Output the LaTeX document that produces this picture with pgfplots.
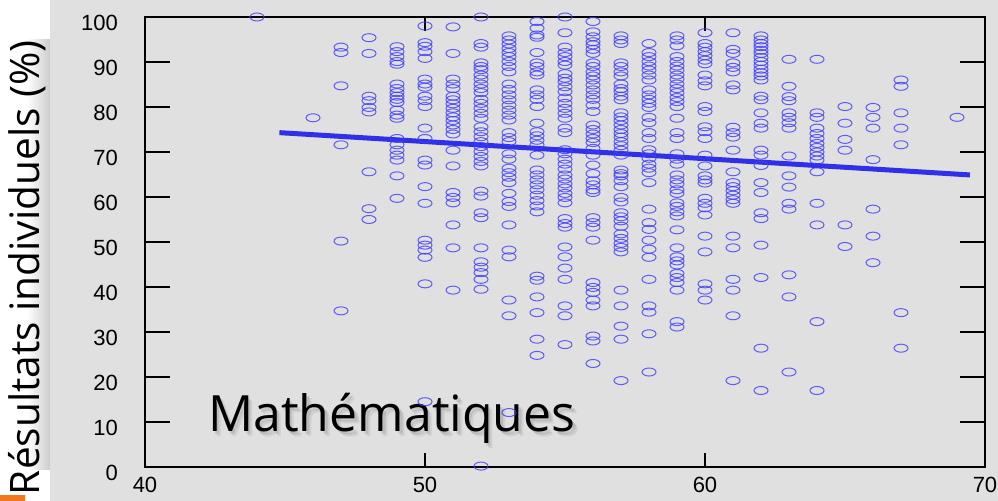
\documentclass[border=0pt]{standalone}
\usepackage{fontspec}
\setmainfont{Liberation Sans}
\newfontfamily\labelfont{Open Sans}
\usepackage{pgfplots}
\pgfplotsset{compat=1.18}
\definecolor{bg}{RGB}{224,224,224}
\definecolor{pts}{RGB}{60,60,255}
\definecolor{fit}{RGB}{48,48,232}
\definecolor{bar}{RGB}{240,120,30}

\begin{document}
\begin{tikzpicture}
% whole slide area, 1px = 0.5pt
\path[use as bounding box, fill=bg] (-72.5pt,-17pt) rectangle (426.5pt,233.5pt);
\fill[white] (-72.5pt,-17pt) rectangle (-47.5pt,233.5pt);
\shade[left color=white, right color=black!20] (-59pt,-1.5pt) rectangle (-47.5pt,213.5pt);
\fill[bar] (-72.5pt,-17pt) rectangle (-60pt,-14pt);
\begin{axis}[
  at={(0,0)}, anchor=south west,
  scale only axis, width=420pt, height=225pt,
  xmin=40, xmax=70, ymin=0, ymax=100,
  xtick={40,50,60,70}, ytick={0,10,...,100},
  tick align=inside,
  xtick style={/pgfplots/major tick length=7pt},
  ytick style={/pgfplots/major tick length=12.5pt},
  axis line style={line width=0.6pt},
  tick style={line width=0.6pt, black},
  tick label style={font=\fontsize{11}{13}\selectfont},
  /pgf/number format/assume math mode=true,
  yticklabel style={xshift=-10pt, yshift=-3pt},
  xticklabel style={yshift=-4pt, inner sep=1pt},
  clip=false,
]
% soft drop shadow, then the text
\node[anchor=base west, inner sep=0, text=black, opacity=0.10,
  font=\labelfont\fontsize{25}{30}\selectfont]
  at ([xshift=1.2pt,yshift=-1.2pt]axis cs:42.25,7.8) {Mathématiques};
\node[anchor=base west, inner sep=0, text=black, opacity=0.07,
  font=\labelfont\fontsize{25}{30}\selectfont]
  at ([xshift=2.2pt,yshift=-2.2pt]axis cs:42.25,7.8) {Mathématiques};
\node[anchor=base west, inner sep=0,
  font=\labelfont\fontsize{25}{30}\selectfont] at (axis cs:42.25,7.8) {Mathématiques};
\node[rotate=90, inner sep=0, font=\labelfont\fontsize{20.3}{24}\selectfont]
  at ([xshift=-59pt]rel axis cs:0,0.443) {Résultats individuels (\%)};

\addplot[only marks, mark=o, mark size=2pt,
  mark options={xscale=1.75, draw=pts, line width=0.5pt, draw opacity=0.8}]
coordinates {
(44,100) (46,77.6)
(47,93.3) (47,92.1) (47,84.7) (47,71.6) (47,50.2) (47,34.7)
(48,95.4) (48,91.9) (48,82.4) (48,81.4) (48,79.9) (48,78.9) (48,65.6) (48,57.4) (48,55.0)
(49,93.4) (49,92.3) (49,91.2) (49,90.1) (49,89.5) (49,85.1) (49,84.1) (49,83.2) (49,82.4) (49,81.7) (49,81.0) (49,79.3) (49,78.2) (49,77.5) (49,73.0) (49,71.6) (49,70.4) (49,69.3) (49,68.2) (49,64.7) (49,59.7)
(50,98.0) (50,94.3) (50,93.5) (50,92.3) (50,90.8) (50,86.2) (50,85.1) (50,84.4) (50,82.4) (50,81.4) (50,80.1) (50,75.3) (50,73.0) (50,68.2) (50,67.1) (50,62.3) (50,58.6) (50,50.4) (50,49.3) (50,48.2) (50,46.6) (50,40.7) (50,14.5)
(51,97.8) (51,91.9) (51,86.2) (51,85.1) (51,84.1) (51,82.4) (51,81.6) (51,80.7) (51,79.7) (51,78.7) (51,77.8) (51,77.0) (51,76.0) (51,75.0) (51,74.0) (51,70.4) (51,66.9) (51,61.0) (51,59.9) (51,58.7) (51,53.8) (51,48.7) (51,39.3)
(52,100) (52,94.1) (52,93.3) (52,89.8) (52,89.0) (52,88.3) (52,87.1) (52,86.2) (52,85.1) (52,84.1) (52,83.2) (52,81.7) (52,80.8) (52,79.7) (52,78.6) (52,77.5) (52,75.6) (52,74.5) (52,73.4) (52,72.3) (52,71.2) (52,70.1) (52,69.0) (52,67.9) (52,66.9) (52,61.3) (52,60.2) (52,56.5) (52,55.4) (52,48.7) (52,45.6) (52,44.4) (52,43.2) (52,41.7) (52,39.5) (52,0.2)
(53,95.8) (53,94.9) (53,94.0) (53,93.0) (53,92.1) (53,91.2) (53,90.1) (53,89.0) (53,87.8) (53,85.1) (53,83.9) (53,82.7) (53,81.6) (53,80.4) (53,79.3) (53,78.2) (53,77.1) (53,74.3) (53,73.2) (53,72.3) (53,69.6) (53,68.4) (53,66.4) (53,65.4) (53,64.4) (53,63.2) (53,60.8) (53,59.0) (53,57.9) (53,53.8) (53,48.2) (53,46.7) (53,37.1) (53,33.6) (53,12.1)
(54,99.0) (54,97.5) (54,96.0) (54,95.5) (54,92.1) (54,89.8) (54,89.0) (54,87.8) (54,87.1) (54,83.8) (54,82.7) (54,81.7) (54,80.1) (54,76.4) (54,74.5) (54,73.6) (54,72.6) (54,71.6) (54,69.3) (54,66.0) (54,64.9) (54,63.8) (54,62.7) (54,61.6) (54,60.4) (54,59.2) (54,58.0) (54,56.7) (54,42.4) (54,41.5) (54,37.8) (54,34.3) (54,28.4) (54,24.8)
(55,100) (55,96.5) (55,93.3) (55,92.1) (55,91.2) (55,90.1) (55,89.3) (55,87.4) (55,86.4) (55,85.6) (55,84.5) (55,83.4) (55,82.0) (55,80.8) (55,79.7) (55,78.6) (55,77.5) (55,75.3) (55,74.3) (55,70.5) (55,69.6) (55,68.4) (55,67.3) (55,66.2) (55,64.9) (55,64.0) (55,62.9) (55,62.0) (55,60.8) (55,59.9) (55,58.7) (55,55.2) (55,54.1) (55,53.3) (55,48.9) (55,46.7) (55,44.2) (55,41.7) (55,35.8) (55,33.6) (55,27.2)
(56,99.0) (56,96.7) (56,95.6) (56,94.5) (56,93.8) (56,92.8) (56,91.9) (56,89.8) (56,89.0) (56,87.8) (56,86.9) (56,86.0) (56,84.9) (56,83.8) (56,82.7) (56,81.7) (56,80.4) (56,79.0) (56,76.0) (56,75.0) (56,74.0) (56,73.0) (56,72.1) (56,70.8) (56,69.3) (56,67.1) (56,65.2) (56,63.6) (56,62.7) (56,61.6) (56,61.0) (56,55.4) (56,54.3) (56,53.3) (56,50.4) (56,41.0) (56,39.9) (56,38.8) (56,37.1) (56,35.8) (56,29.1) (56,28.0) (56,23.0)
(57,95.8) (57,94.9) (57,94.1) (57,89.8) (57,89.0) (57,87.8) (57,86.9) (57,85.1) (57,84.1) (57,83.4) (57,82.4) (57,81.6) (57,78.7) (57,77.8) (57,77.0) (57,76.0) (57,75.0) (57,74.1) (57,73.3) (57,72.3) (57,71.4) (57,70.4) (57,69.3) (57,66.0) (57,65.2) (57,64.7) (57,63.6) (57,62.3) (57,59.9) (57,58.9) (57,56.5) (57,55.6) (57,54.7) (57,53.5) (57,51.8) (57,50.8) (57,49.7) (57,48.8) (57,47.8) (57,39.3) (57,35.8) (57,31.3) (57,28.4) (57,19.2)
(58,94.1) (58,92.1) (58,91.2) (58,90.1) (58,89.1) (58,88.2) (58,87.1) (58,86.0) (58,83.8) (58,82.7) (58,81.7) (58,80.8) (58,79.9) (58,77.7) (58,76.5) (58,74.3) (58,73.0) (58,70.5) (58,69.6) (58,68.6) (58,67.3) (58,66.4) (58,65.4) (58,63.2) (58,57.3) (58,54.3) (58,52.8) (58,50.4) (58,48.4) (58,46.6) (58,41.7) (58,35.8) (58,34.4) (58,29.6) (58,21.1)
(59,95.8) (59,94.9) (59,93.6) (59,91.2) (59,90.1) (59,89.1) (59,88.2) (59,87.1) (59,86.2) (59,85.1) (59,84.1) (59,83.2) (59,82.1) (59,81.2) (59,80.1) (59,77.5) (59,74.3) (59,73.0) (59,69.6) (59,68.4) (59,67.3) (59,64.9) (59,63.8) (59,62.9) (59,61.6) (59,60.8) (59,58.7) (59,57.9) (59,56.7) (59,55.8) (59,52.7) (59,48.7) (59,46.7) (59,45.8) (59,44.9) (59,43.0) (59,42.1) (59,41.0) (59,39.3) (59,32.3) (59,31.1)
(60,96.5) (60,94.1) (60,93.3) (60,92.3) (60,91.4) (60,90.4) (60,89.6) (60,87.1) (60,85.8) (60,84.7) (60,80.1) (60,79.0) (60,75.6) (60,74.5) (60,73.0) (60,69.3) (60,66.9) (60,64.7) (60,63.8) (60,63.1) (60,59.7) (60,58.6) (60,57.6) (60,56.0) (60,51.3) (60,47.8) (60,40.7) (60,39.3) (60,37.1)
(61,96.5) (61,92.8) (61,91.9) (61,89.8) (61,88.8) (61,87.8) (61,84.9) (61,83.8) (61,75.5) (61,74.3) (61,73.3) (61,70.4) (61,65.6) (61,63.2) (61,62.3) (61,61.4) (61,60.4) (61,59.4) (61,58.6) (61,51.3) (61,48.7) (61,41.7) (61,39.3) (61,33.6) (61,19.2)
(62,95.8) (62,94.9) (62,94.1) (62,93.4) (62,92.6) (62,91.9) (62,91.0) (62,90.1) (62,89.3) (62,88.4) (62,87.6) (62,86.9) (62,86.0) (62,82.4) (62,81.6) (62,78.7) (62,76.4) (62,75.3) (62,70.4) (62,69.3) (62,67.0) (62,63.2) (62,61.0) (62,56.5) (62,55.2) (62,49.3) (62,42.1) (62,26.4) (62,17.0)
(63,90.6) (63,84.6) (63,82.3) (63,81.4) (63,78.7) (63,77.7) (63,76.5) (63,75.3) (63,69.1) (63,64.7) (63,62.2) (63,58.6) (63,57.3) (63,42.7) (63,37.8) (63,21.1)
(64,90.6) (64,78.7) (64,77.7) (64,75.3) (64,74.1) (64,73.0) (64,71.9) (64,71.0) (64,70.0) (64,69.1) (64,68.2) (64,65.6) (64,58.6) (64,53.8) (64,32.3) (64,17.0)
(65,80.1) (65,76.4) (65,72.8) (65,70.4) (65,53.8) (65,49.0)
(66,79.9) (66,77.7) (66,75.3) (66,68.3) (66,57.3) (66,51.3) (66,45.4)
(67,86.0) (67,84.6) (67,78.7) (67,75.3) (67,71.6) (67,34.3) (67,26.4)
(69,77.7)
};
% fitted trend
\addplot[fit, line width=2.5pt, no marks] coordinates {(44.8,74.3) (69.46,64.9)};
\end{axis}
\end{tikzpicture}
\end{document}
